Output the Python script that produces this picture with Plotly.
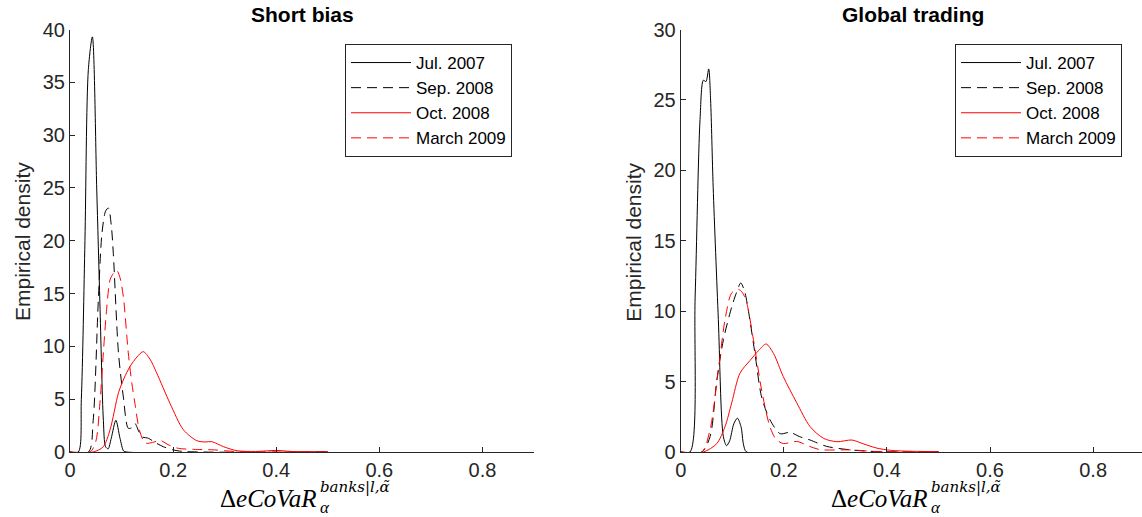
import plotly.graph_objects as go

W, H = 1142, 517

series_names = ["Jul. 2007", "Sep. 2008", "Oct. 2008", "March 2009"]
series_colors = ["#000000", "#000000", "#FF0000", "#FF0000"]
series_dash = ["solid", "10px,6px", "solid", "10px,6px"]

# ---- Short bias (left panel) ----
sb_jul07_x = [0, 0.016, 0.022, 0.029, 0.0356, 0.0434, 0.0518, 0.058, 0.0647, 0.069, 0.074, 0.08, 0.089, 0.097, 0.104, 0.11, 0.5]
sb_jul07_y = [0, 0, 5, 20, 36.2, 39.3, 25, 14.1, 3, 0.5, 0.3, 1.3, 3.0, 1.3, 0.1, 0, 0]

sb_sep08_x = [0, 0.036, 0.045, 0.0547, 0.062, 0.069, 0.0744, 0.08, 0.084, 0.094, 0.1035, 0.113, 0.12, 0.126, 0.133, 0.139, 0.152, 0.165, 0.181, 0.2, 0.22, 0.5]
sb_sep08_y = [0, 0, 3, 14.1, 20.7, 22.8, 23.1, 21.5, 18.8, 9.4, 5.2, 2.25, 2.3, 2.7, 2.0, 1.45, 1.3, 0.9, 0.5, 0.2, 0.05, 0]

sb_oct08_x = [0, 0.045, 0.0646, 0.0777, 0.094, 0.105, 0.1165, 0.13, 0.142, 0.155, 0.168, 0.194, 0.22, 0.246, 0.262, 0.275, 0.298, 0.324, 0.36, 0.401, 0.43, 0.5]
sb_oct08_y = [0, 0, 0.5, 2.1, 5.6, 7.0, 8.1, 9.0, 9.5, 8.8, 7.5, 4.6, 2.1, 1.07, 0.95, 0.98, 0.5, 0.12, 0.05, 0.15, 0.05, 0]

sb_mar09_x = [0, 0.039, 0.05, 0.058, 0.0647, 0.071, 0.0777, 0.084, 0.0906, 0.097, 0.1035, 0.113, 0.12, 0.126, 0.135, 0.146, 0.16, 0.175, 0.19, 0.21, 0.24, 0.28, 0.32, 0.5]
sb_mar09_y = [0, 0, 1.0, 4.6, 9.4, 13.5, 16.3, 16.9, 17.2, 16.5, 14.7, 9.4, 6.5, 4.6, 2.0, 0.85, 0.9, 1.1, 0.7, 0.35, 0.25, 0.2, 0.05, 0]

# ---- Global trading (right panel) ----
gt_jul07_x = [0, 0.018, 0.028, 0.0375, 0.044, 0.049, 0.0543, 0.058, 0.063, 0.073, 0.0827, 0.089, 0.095, 0.103, 0.11, 0.117, 0.122, 0.128, 0.5]
gt_jul07_y = [0, 0, 11, 23.6, 26.4, 26.3, 27.2, 25, 18.8, 9.4, 1.1, 0.45, 0.8, 2.0, 2.4, 1.8, 0.5, 0, 0]

gt_sep08_x = [0, 0.041, 0.057, 0.07, 0.083, 0.099, 0.108, 0.1165, 0.124, 0.131, 0.144, 0.157, 0.173, 0.193, 0.212, 0.23, 0.251, 0.283, 0.33, 0.38, 0.5]
gt_sep08_y = [0, 0, 1.1, 5.1, 8.0, 10.3, 11.3, 12.0, 11.4, 10.1, 7.0, 3.9, 2.3, 1.3, 1.4, 1.1, 0.85, 0.4, 0.15, 0.03, 0]

gt_oct08_x = [0, 0.044, 0.07, 0.086, 0.099, 0.115, 0.1346, 0.151, 0.1656, 0.18, 0.199, 0.225, 0.251, 0.277, 0.303, 0.332, 0.355, 0.38, 0.407, 0.45, 0.5]
gt_oct08_y = [0, 0, 0.6, 1.8, 3.5, 5.6, 6.5, 7.2, 7.67, 7.0, 5.35, 3.5, 1.8, 0.97, 0.73, 0.85, 0.57, 0.28, 0.12, 0.05, 0.03]

gt_mar09_x = [0, 0.041, 0.057, 0.073, 0.086, 0.099, 0.112, 0.12, 0.128, 0.141, 0.157, 0.173, 0.185, 0.199, 0.225, 0.25, 0.27, 0.33, 0.38, 0.5]
gt_mar09_y = [0, 0, 1.6, 5.8, 9.4, 11.3, 11.55, 11.3, 10.6, 8.0, 4.4, 1.8, 0.9, 0.6, 0.75, 0.4, 0.17, 0.15, 0.03, 0]

panel_titles = ["Short bias", "Global trading"]
y_label = "Empirical density"
x_ticks = [0, 0.2, 0.4, 0.6, 0.8]
x_tick_text = ["0", "0.2", "0.4", "0.6", "0.8"]

left_series = [(sb_jul07_x, sb_jul07_y), (sb_sep08_x, sb_sep08_y), (sb_oct08_x, sb_oct08_y), (sb_mar09_x, sb_mar09_y)]
right_series = [(gt_jul07_x, gt_jul07_y), (gt_sep08_x, gt_sep08_y), (gt_oct08_x, gt_oct08_y), (gt_mar09_x, gt_mar09_y)]

fig = go.Figure()
for i, (xs, ys) in enumerate(left_series):
    fig.add_trace(go.Scatter(x=xs, y=ys, mode="lines", name=series_names[i],
                             line=dict(color=series_colors[i], width=1, dash=series_dash[i], shape="spline", smoothing=0.8),
                             xaxis="x", yaxis="y", legend="legend"))
for i, (xs, ys) in enumerate(right_series):
    fig.add_trace(go.Scatter(x=xs, y=ys, mode="lines", name=series_names[i],
                             line=dict(color=series_colors[i], width=1, dash=series_dash[i], shape="spline", smoothing=0.8),
                             xaxis="x2", yaxis="y2", legend="legend2"))

axcol = "#262626"
sans = "Liberation Sans, Arial, sans-serif"
serif = "Liberation Serif, Times New Roman, serif"
tickfont = dict(family=sans, size=20, color=axcol)

# pixel geometry
L0, L1 = 70, 534
R0 = 680.7
ytop, ybot = 29.5, 452
xscale = (L1 - L0) / 0.9
r_range_end = (W - R0) / xscale

common_x = dict(showline=True, linecolor=axcol, linewidth=1, ticks="inside", ticklen=5, tickcolor=axcol,
                tickvals=x_ticks, ticktext=x_tick_text, tickfont=tickfont, showgrid=False, zeroline=False,
                mirror=False, fixedrange=True, automargin=False)
common_y = dict(showline=True, linecolor=axcol, linewidth=1, ticks="inside", ticklen=5, tickcolor=axcol,
                dtick=5, tickfont=tickfont, showgrid=False, zeroline=False, fixedrange=True, automargin=False)

legend_common = dict(xanchor="left", yanchor="top", bgcolor="white", bordercolor="#262626", borderwidth=1,
                     font=dict(family=sans, size=17, color="#000000"), itemwidth=60, tracegroupgap=0)

ydom = [(H - ybot) / H, (H - ytop) / H]
fig.update_layout(
    width=W, height=H, autosize=False,
    margin=dict(l=0, r=0, t=0, b=0, pad=0),
    paper_bgcolor="white", plot_bgcolor="white",
    showlegend=True,
    xaxis=dict(domain=[L0 / W, L1 / W], range=[0, 0.9], anchor="y", **common_x),
    yaxis=dict(domain=ydom, range=[0, 40], anchor="x", **common_y),
    xaxis2=dict(domain=[R0 / W, 1.0], range=[0, r_range_end], anchor="y2", **common_x),
    yaxis2=dict(domain=ydom, range=[0, 30], anchor="x2", **common_y),
    legend=dict(x=345 / W, y=1 - 44 / H, **legend_common),
    legend2=dict(x=955 / W, y=1 - 44 / H, **legend_common),
)

annotations = []
offsets = [0, R0 - L0]
for k in range(2):
    off = offsets[k]
    annotations.append(dict(x=(L0 + off + (L1 - L0) / 2) / W, y=1 - 14 / H, xref="paper", yref="paper",
                            text="<b>" + panel_titles[k] + "</b>", showarrow=False,
                            xanchor="center", yanchor="middle",
                            font=dict(family=sans, size=21, color="#000000")))
    annotations.append(dict(x=(22 + off) / W, y=1 - 242 / H, xref="paper", yref="paper",
                            text=y_label, textangle=-90, showarrow=False,
                            xanchor="center", yanchor="middle",
                            font=dict(family=sans, size=21, color=axcol)))
    annotations.append(dict(x=(218 + off) / W, y=1 - 498 / H, xref="paper", yref="paper",
                            text="Δ<i>eCoVaR</i>", showarrow=False, xanchor="left", yanchor="middle", align="left",
                            font=dict(family=serif, size=25, color="#000000")))
    annotations.append(dict(x=(318 + off) / W, y=1 - 487 / H, xref="paper", yref="paper",
                            text="<i>banks|l,α̃</i>", showarrow=False, xanchor="left", yanchor="middle", align="left",
                            font=dict(family="DejaVu Serif, serif", size=15, color="#000000")))
    annotations.append(dict(x=(318 + off) / W, y=1 - 508 / H, xref="paper", yref="paper",
                            text="<i>α</i>", showarrow=False, xanchor="left", yanchor="middle", align="left",
                            font=dict(family=serif, size=17, color="#000000")))

fig.update_layout(annotations=annotations)
fig.write_html("out.html", post_script="document.body.style.margin='0';document.body.style.overflow='hidden';")
